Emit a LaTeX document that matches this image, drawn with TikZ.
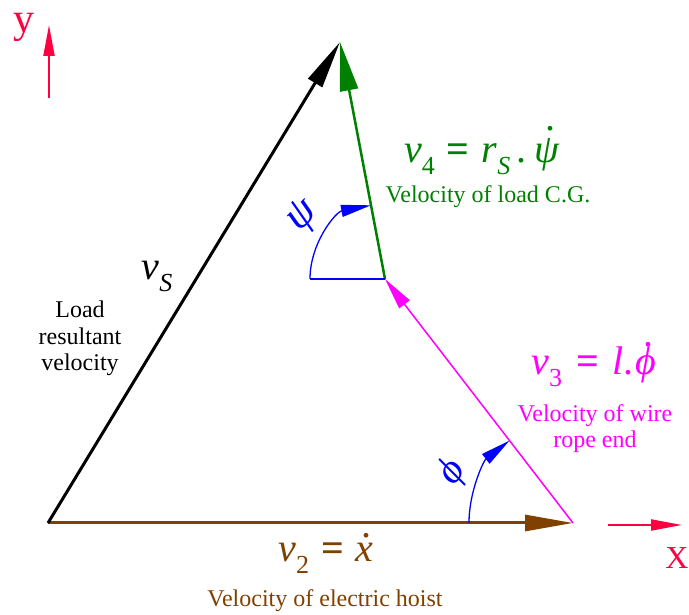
\documentclass[tikz,border=0pt]{standalone}
\usepackage{fontspec}
\setmainfont{Liberation Serif}
\usetikzlibrary{arrows.meta,calc}
\definecolor{vgreen}{RGB}{0,128,0}
\definecolor{vmag}{RGB}{255,0,255}
\definecolor{vbrown}{RGB}{128,64,0}
\definecolor{axred}{RGB}{255,0,64}
\definecolor{angblue}{RGB}{0,0,255}
\newcommand\dotacc[3]{\ooalign{#3\cr\hidewidth\kern#2\raisebox{#1}{\upshape.}\hidewidth\cr}}
\newcommand\bigf{\fontsize{40}{44}\selectfont}
\newcommand\subf{\fontsize{26}{26}\selectfont}
\newcommand\smallf{\fontsize{24}{26.5}\selectfont}
\newcommand\lowsub[1]{\raisebox{-0.28em}{\subf #1}}
\newcommand\gap{\hspace{0.3em}}
\tikzset{
  vecblack/.style={line width=3pt, black, -{Triangle[length=48pt,width=16pt]}},
  vecgreen/.style={line width=2.5pt, vgreen, -{Triangle[length=49pt,width=18pt]}},
  vecmag/.style={line width=1.5pt, vmag, -{Triangle[length=32pt,width=13pt]}},
  vecbrown/.style={line width=3pt, vbrown, -{Triangle[length=48pt,width=16pt]}},
  axisarrow/.style={line width=2pt, axred, -{Triangle[length=31pt,width=11pt]}},
  angarc/.style={line width=1.3pt, angblue, -{Triangle[length=30pt,width=12pt]}},
  angline/.style={line width=1.3pt, angblue},
  lbl/.style={inner sep=0pt, anchor=base},
  small/.style={lbl, font=\smallf, align=center}
}
\begin{document}
\begin{tikzpicture}[x=1pt,y=1pt]
\useasboundingbox (0,0) rectangle (689,615);
% main points
\coordinate (O) at (48,92);
\coordinate (A) at (340,573);
\coordinate (M) at (385,336);
\coordinate (B) at (573,92);
\coordinate (Mh) at (310,336);
\coordinate (Bh) at (469,92);
% axes
\coordinate (Ys) at (49,517);
\coordinate (Ye) at (49,590);
\coordinate (Xs) at (608,90);
\coordinate (Xe) at (682,90);
\draw[axisarrow] (Ys) -- (Ye);
\draw[axisarrow] (Xs) -- (Xe);
\node[lbl, text=axred] (ylab) at (24,582) {\fontsize{42}{44}\selectfont y};
\node[lbl, text=axred] (xlab) at (677,46) {\fontsize{32}{34}\selectfont X};
% vectors
\draw[vecbrown] (O) -- (B);
\draw[vecmag] (B) -- (M);
\draw[vecgreen] (M) -- (A);
\draw[vecblack] (O) -- (A);
% angles
\draw[angline] (Mh) -- (M);
\draw[angarc] (Mh) arc[start angle=180, end angle=100.75, radius=75];
\draw[angarc] (Bh) arc[start angle=180, end angle=127.6, radius=104];
\node[text=angblue, rotate=45, inner sep=0pt] (psil) at (303,398) {\fontsize{44}{46}\selectfont\itshape ψ};
\node[text=angblue, rotate=55, inner sep=0pt] (phil) at (453,142) {\fontsize{40}{42}\selectfont\itshape ϕ};
% labels
\node[lbl, text=vgreen] (v4eq) at (482,452) {\bigf\itshape v\lowsub{\upshape 4}\gap\textbf{\upshape =}\gap r\lowsub{S}\,\upshape.\hspace{0.2em}\dotacc{0.8em}{0.15em}{\itshape ψ}};
\node[small, text=vgreen] (v4t) at (488,412) {Velocity of load C.G.};
\node[lbl, text=vmag] (v3eq) at (594,240) {\bigf\itshape v\lowsub{\upshape 3}\hspace{0.35em}\textbf{\upshape =}\hspace{0.35em}l\upshape.\hspace{0.05em}\dotacc{0.7em}{0.1em}{\itshape ϕ}};
\node[small, text=vmag] (v3t) at (595,167) {Velocity of wire\\rope end};
\node[lbl, text=vbrown] (v2eq) at (326,53) {\bigf\itshape v\lowsub{\upshape 2}\gap\textbf{\upshape =}\gap\dotacc{0.6em}{0.1em}{\itshape x}};
\node[small, text=vbrown] (v2t) at (325,8) {Velocity of electric hoist};
\node[lbl] (vs) at (157,335) {\bigf\itshape v\lowsub{S}};
\node[small] (vst) at (80,244) {Load\\resultant\\velocity};
\end{tikzpicture}
\end{document}
